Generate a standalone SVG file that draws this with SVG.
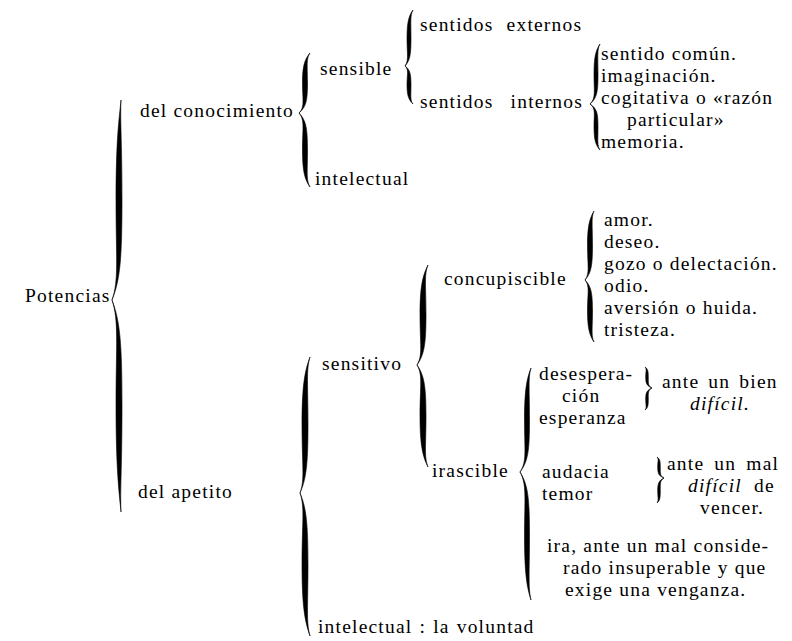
<svg xmlns="http://www.w3.org/2000/svg" width="792" height="641" viewBox="0 0 792 641">
<style>
text{font-family:"Liberation Serif","Times New Roman",serif;font-size:19.5px;fill:#000;letter-spacing:1.2px}
.it{font-style:italic}
.br{fill:#000;stroke:#000;stroke-width:0.6}
</style>
<rect width="792" height="641" fill="#fff"/>
<g id="connectors">
<path class="br" d="M121,100 C119,120 116,140 116,200 C116,260 119,280 112,300 C120,280 122,260 122,200 C122,140 120,120 121,100 Z M112,300 C119,321.2 116,342.4 116,406 C116,469.6 119,490.8 121,512 C120,490.8 122,469.6 122,406 C122,342.4 120,321.2 112,300 Z"/>
<path class="br" d="M310,53 C305,59 302.5,65 302.5,83 C302.5,101 305,107 299,113 C306,107 307.5,101 307.5,83 C307.5,65 306,59 310,53 Z M299,113 C305,120.4 302.5,127.8 302.5,150 C302.5,172.2 305,179.6 310,187 C306,179.6 307.5,172.2 307.5,150 C307.5,127.8 306,120.4 299,113 Z"/>
<path class="br" d="M413,10 C409,15.6 407,21.2 407,38 C407,54.8 409,60.4 405,66 C410,60.4 411,54.8 411,38 C411,21.2 410,15.6 413,10 Z M405,66 C409,69.8 407,73.6 407,85 C407,96.4 409,100.2 413,104 C410,100.2 411,96.4 411,85 C411,73.6 410,69.8 405,66 Z"/>
<path class="br" d="M600,44 C596,50 594,56 594,74 C594,92 596,98 590,104 C597,98 598,92 598,74 C598,56 597,50 600,44 Z M590,104 C596,108.6 594,113.2 594,127 C594,140.8 596,145.4 600,150 C597,145.4 598,140.8 598,127 C598,113.2 597,108.6 590,104 Z"/>
<path class="br" d="M310,357 C305,370.6 302,384.2 302,425 C302,465.8 305,479.4 300,493 C306,479.4 308,465.8 308,425 C308,384.2 306,370.6 310,357 Z M300,493 C305,507.3 302,521.6 302,564.5 C302,607.4 305,621.7 310,636 C306,621.7 308,607.4 308,564.5 C308,521.6 306,507.3 300,493 Z"/>
<path class="br" d="M428,265 C423,275 420,285 420,315 C420,345 423,355 417,365 C424,355 426,345 426,315 C426,285 424,275 428,265 Z M417,365 C423,375.2 420,385.4 420,416 C420,446.6 423,456.8 428,467 C424,456.8 426,446.6 426,416 C426,385.4 424,375.2 417,365 Z"/>
<path class="br" d="M594,211 C590,217.9 587.5,224.8 587.5,245.5 C587.5,266.2 590,273.1 585,280 C591,273.1 592.5,266.2 592.5,245.5 C592.5,224.8 591,217.9 594,211 Z M585,280 C590,286.2 587.5,292.4 587.5,311 C587.5,329.6 590,335.8 594,342 C591,335.8 592.5,329.6 592.5,311 C592.5,292.4 591,286.2 585,280 Z"/>
<path class="br" d="M531,368 C527,378.4 524.5,388.8 524.5,420 C524.5,451.2 527,461.6 520,472 C528,461.6 529.5,451.2 529.5,420 C529.5,388.8 528,378.4 531,368 Z M520,472 C527,484.8 524.5,497.6 524.5,536 C524.5,574.4 527,587.2 531,600 C528,587.2 529.5,574.4 529.5,536 C529.5,497.6 528,484.8 520,472 Z"/>
<path class="br" d="M645,367 C647,369.1 645.7,371.2 645.7,377.5 C645.7,383.8 647,385.9 652,388 C648,385.9 648.3,383.8 648.3,377.5 C648.3,371.2 648,369.1 645,367 Z M652,388 C647,390.2 645.7,392.4 645.7,399 C645.7,405.6 647,407.8 645,410 C648,407.8 648.3,405.6 648.3,399 C648.3,392.4 648,390.2 652,388 Z"/>
<path class="br" d="M657,457 C659,459.1 657.7,461.2 657.7,467.5 C657.7,473.8 659,475.9 664,478 C660,475.9 660.3,473.8 660.3,467.5 C660.3,461.2 660,459.1 657,457 Z M664,478 C659,480.5 657.7,483 657.7,490.5 C657.7,498 659,500.5 657,503 C660,500.5 660.3,498 660.3,490.5 C660.3,483 660,480.5 664,478 Z"/>
</g>
<g id="potencias"><text x="25" y="302">Potencias</text></g>
<g id="del-conocimiento"><text x="140" y="117">del conocimiento</text></g>
<g id="sensible"><text x="320" y="75">sensible</text></g>
<g id="sentidos-externos"><text x="420" y="31" word-spacing="7">sentidos externos</text></g>
<g id="sentidos-internos"><text x="420" y="108" word-spacing="11">sentidos internos</text></g>
<g id="internos-lista">
<text x="601" y="60">sentido común.</text>
<text x="601" y="82">imaginación.</text>
<text x="601" y="104">cogitativa o «razón</text>
<text x="627" y="126">particular»</text>
<text x="601" y="148">memoria.</text>
</g>
<g id="intelectual-conoc"><text x="315" y="185">intelectual</text></g>
<g id="del-apetito"><text x="138" y="498">del apetito</text></g>
<g id="sensitivo"><text x="322" y="370">sensitivo</text></g>
<g id="concupiscible"><text x="444" y="285">concupiscible</text></g>
<g id="concupiscible-lista">
<text x="604" y="226">amor.</text>
<text x="604" y="248">deseo.</text>
<text x="604" y="270">gozo o delectación.</text>
<text x="604" y="292">odio.</text>
<text x="604" y="314">aversión o huida.</text>
<text x="604" y="336">tristeza.</text>
</g>
<g id="irascible"><text x="432" y="477">irascible</text></g>
<g id="desesperacion">
<text x="539" y="380">desespera-</text>
<text x="562" y="402">ción</text>
<text x="539" y="424">esperanza</text>
</g>
<g id="ante-bien">
<text x="662" y="388" word-spacing="3">ante un bien</text>
<text x="690" y="410" class="it">difícil.</text>
</g>
<g id="audacia">
<text x="542" y="478">audacia</text>
<text x="542" y="500">temor</text>
</g>
<g id="ante-mal">
<text x="667" y="470" word-spacing="4">ante un mal</text>
<text x="688" y="492" word-spacing="6"><tspan class="it">difícil</tspan> de</text>
<text x="700" y="514">vencer.</text>
</g>
<g id="ira">
<text x="547" y="552">ira, ante un mal conside-</text>
<text x="563" y="574">rado insuperable y que</text>
<text x="565" y="596">exige una venganza.</text>
</g>
<g id="intelectual-voluntad"><text x="318" y="633" word-spacing="1">intelectual : la voluntad</text></g>
</svg>
